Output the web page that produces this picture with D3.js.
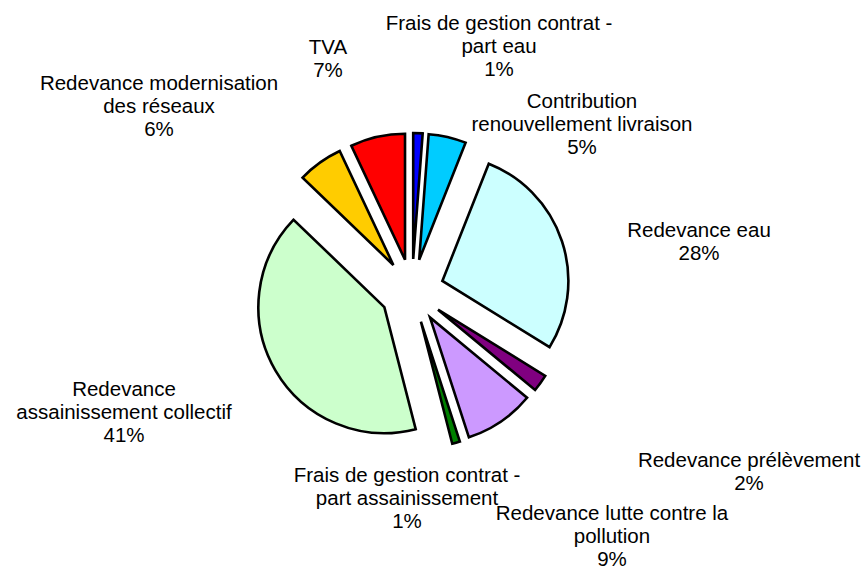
<!DOCTYPE html>
<html>
<head>
<meta charset="utf-8">
<script src="https://cdn.jsdelivr.net/npm/d3@7"></script>
<style>
    body { margin: 0; background: #ffffff; }
    text { font-family: "Liberation Sans", Arial, sans-serif; font-size: 20.5px; fill: #000; }
</style>
</head>
<body>
<div id="pie_chart"></div>
<script>
// slices, clockwise from 12 o'clock
const categories = [
    ["Frais de gestion contrat -", "part eau"],
    ["Contribution", "renouvellement livraison"],
    ["Redevance eau"],
    ["Redevance prélèvement"],
    ["Redevance lutte contre la", "pollution"],
    ["Frais de gestion contrat -", "part assainissement"],
    ["Redevance", "assainissement collectif"],
    ["Redevance modernisation", "des réseaux"],
    ["TVA"]
];
const values = [1.2, 4.8, 27.8, 2.2, 9.0, 1.0, 41.2, 5.8, 7.0];
const colors = ["#0000FF", "#00CCFF", "#CCFFFF", "#800080", "#CC99FF",
                "#008000", "#CCFFCC", "#FFCC00", "#FF0000"];

// label anchors (x centre, first baseline) as placed in the original
const labelPos = [[499, 30], [582, 108], [699, 237], [749, 467], [612, 520],
                  [407, 482], [124, 396], [159, 90], [328, 54]];

const WIDTH = 864, HEIGHT = 572;
const CX = 412, CY = 291;
const RADIUS = 126;
const EXPLODE = 32;
const LINE_H = 23.2;

var svg = d3.select("#pie_chart")
    .append("svg")
    .attr("width", WIDTH)
    .attr("height", HEIGHT);

var data = values.map((v, i) => ({ value: v, name: categories[i], color: colors[i] }));

var pie = d3.pie()
    .sort(null)
    .value(d => d.value);

var arc = d3.arc()
    .innerRadius(0)
    .outerRadius(RADIUS);

var pieG = svg.append("g")
    .attr("transform", "translate(" + CX + "," + CY + ")");

// exploded slices
pieG.selectAll("path")
    .data(pie(data))
    .enter()
    .append("path")
    .attr("transform", d => {
        let mid = (d.startAngle + d.endAngle) / 2;
        return "translate(" + (EXPLODE * Math.sin(mid)) + "," + (-EXPLODE * Math.cos(mid)) + ")";
    })
    .attr("d", arc)
    .style("fill", d => d.data.color)
    .style("stroke", "#000")
    .style("stroke-width", 2.6)
    .style("stroke-linejoin", "miter");

// labels: name lines + rounded percentage
var total = d3.sum(values);
var labels = svg.selectAll("text.label")
    .data(data)
    .enter()
    .append("text")
    .attr("class", "label")
    .attr("text-anchor", "middle")
    .attr("transform", (d, i) => "translate(" + labelPos[i][0] + "," + labelPos[i][1] + ")");

labels.each(function (d) {
    let lines = d.name.concat([Math.round(d.value / total * 100) + "%"]);
    d3.select(this).selectAll("tspan")
        .data(lines)
        .enter()
        .append("tspan")
        .attr("x", 0)
        .attr("y", (l, j) => j * LINE_H)
        .text(l => l);
});
</script>
</body>
</html>
